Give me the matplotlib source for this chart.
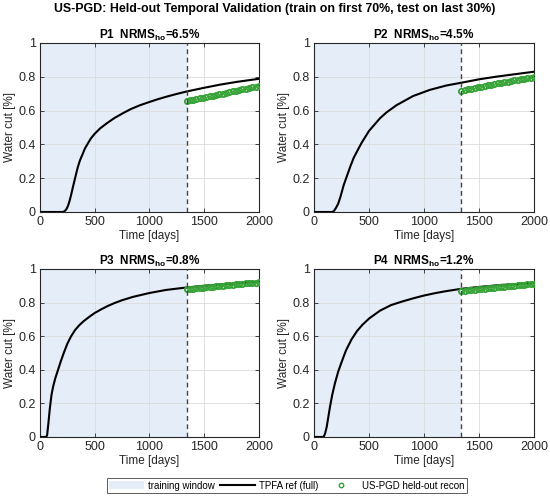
import numpy as np
import matplotlib
matplotlib.use('Agg')
import matplotlib.pyplot as plt
from matplotlib.patches import Patch
from matplotlib.lines import Line2D

plt.rcParams['font.family'] = ['Liberation Sans', 'DejaVu Sans']
plt.rcParams['mathtext.fontset'] = 'custom'
plt.rcParams['mathtext.rm'] = 'Liberation Sans'
plt.rcParams['mathtext.bf'] = 'Liberation Sans:bold'

# split between training and held-out part [days]
t_split = 1340

# reference TPFA curves (time [days], water cut)
t_p1 = [0, 210, 225, 240, 256, 270, 286, 300, 315, 330, 345, 365, 390, 410, 435, 465,
        500, 550, 613, 680, 762, 830, 911, 1000, 1075, 1149, 1240, 1340, 1500, 1650,
        1800, 2000]
wc_p1 = [0, 0, 0.005, 0.015, 0.036, 0.065, 0.105, 0.145, 0.185, 0.225, 0.264, 0.305,
         0.343, 0.375, 0.403, 0.435, 0.463, 0.495, 0.526, 0.556, 0.586, 0.609, 0.631,
         0.651, 0.667, 0.681, 0.697, 0.713, 0.735, 0.754, 0.770, 0.788]

t_p2 = [0, 165, 180, 200, 220, 240, 270, 300, 330, 360, 400, 433, 500, 600, 660, 750,
        900, 1050, 1200, 1340, 1500, 1650, 1800, 2000]
wc_p2 = [0, 0, 0.005, 0.025, 0.05, 0.09, 0.16, 0.215, 0.27, 0.32, 0.37, 0.41, 0.48, 0.555,
         0.59, 0.632, 0.686, 0.722, 0.748, 0.765, 0.785, 0.80, 0.813, 0.83]

t_p3 = [0, 55, 65, 75, 90, 105, 120, 140, 160, 190, 220, 250, 283, 320, 360, 400, 450,
        500, 560, 620, 684, 750, 850, 1000, 1150, 1340, 1500, 1700, 2000]
wc_p3 = [0, 0, 0.01, 0.07, 0.17, 0.25, 0.30, 0.35, 0.39, 0.45, 0.505, 0.555, 0.598, 0.636,
         0.666, 0.69, 0.715, 0.738, 0.76, 0.78, 0.798, 0.814, 0.834, 0.857, 0.875, 0.89,
         0.90, 0.91, 0.925]

t_p4 = [0, 80, 90, 100, 115, 130, 145, 165, 190, 220, 250, 290, 340, 390, 440, 500, 600,
        700, 800, 900, 1000, 1100, 1200, 1340, 1500, 1700, 2000]
wc_p4 = [0, 0, 0.005, 0.02, 0.06, 0.12, 0.18, 0.25, 0.32, 0.39, 0.445, 0.515, 0.58, 0.63,
         0.668, 0.705, 0.752, 0.785, 0.806, 0.825, 0.842, 0.856, 0.868, 0.882, 0.893,
         0.905, 0.916]

# held-out reconstruction (every 30 days from t_split to 2000)
t_ho = np.arange(1340, 2001, 30)
ho_p1 = [0.655, 0.660, 0.664, 0.669, 0.673, 0.677, 0.681, 0.685, 0.689, 0.693, 0.697,
         0.701, 0.705, 0.709, 0.713, 0.717, 0.721, 0.725, 0.729, 0.733, 0.737, 0.741, 0.745]
ho_p2 = [0.718, 0.722, 0.726, 0.730, 0.734, 0.738, 0.742, 0.746, 0.750, 0.754, 0.757,
         0.761, 0.765, 0.768, 0.772, 0.775, 0.779, 0.782, 0.786, 0.789, 0.792, 0.795, 0.798]
ho_p3 = [0.878, 0.881, 0.883, 0.885, 0.887, 0.889, 0.891, 0.893, 0.895, 0.897, 0.899,
         0.901, 0.903, 0.905, 0.907, 0.908, 0.910, 0.912, 0.914, 0.915, 0.917, 0.919, 0.921]
ho_p4 = [0.868, 0.871, 0.873, 0.875, 0.877, 0.879, 0.881, 0.883, 0.885, 0.887, 0.889,
         0.891, 0.893, 0.895, 0.897, 0.899, 0.901, 0.903, 0.905, 0.907, 0.909, 0.911, 0.913]

names = ['P1', 'P2', 'P3', 'P4']
nrms = [6.5, 4.5, 0.8, 1.2]
ref_t = [t_p1, t_p2, t_p3, t_p4]
ref_wc = [wc_p1, wc_p2, wc_p3, wc_p4]
ho_wc = [ho_p1, ho_p2, ho_p3, ho_p4]

shade = '#e5edf8'
green = '#35a335'
txt = '#262626'

fig = plt.figure(figsize=(5.5, 4.98), dpi=100)
pos = [[0.0727, 0.5743, 0.398, 0.3394],
       [0.571, 0.5743, 0.400, 0.3394],
       [0.0727, 0.1225, 0.398, 0.3374],
       [0.571, 0.1225, 0.400, 0.3374]]

for i in range(4):
    ax = fig.add_axes(pos[i])
    ax.axvspan(0, t_split, color=shade, lw=0, zorder=0.5)
    ax.set_axisbelow('line')
    ax.grid(True, color='#dcdcdc', lw=0.6)
    ax.plot(ref_t[i], ref_wc[i], color='black', lw=1.5, zorder=3)
    ax.plot(t_ho, ho_wc[i], 'o', mfc='none', mec=green, ms=3.8, mew=1.3, zorder=4)
    ax.axvline(t_split, color='#444444', lw=1.0, ls=(0, (3.5, 2.5)), zorder=5)
    ax.set_xlim(0, 2000)
    ax.set_ylim(0, 1)
    ax.set_xticks([0, 500, 1000, 1500, 2000])
    ax.set_yticks([0, 0.2, 0.4, 0.6, 0.8, 1])
    ax.set_yticklabels(['0', '0.2', '0.4', '0.6', '0.8', '1'])
    ax.tick_params(direction='in', length=3, width=0.6, labelsize=9, colors=txt,
                   top=True, right=True, pad=3)
    for s in ax.spines.values():
        s.set_color(txt)
        s.set_linewidth(0.8)
    ax.set_xlabel('Time [days]', fontsize=8.5, color=txt, labelpad=1)
    ax.set_ylabel('Water cut [%]', fontsize=8.5, color=txt, labelpad=2)
    ax.set_title(names[i] + '  NRMS$_{\\mathbf{ho}}$=' + f'{nrms[i]}%',
                 fontsize=8.5, fontweight='bold', pad=3)

fig.suptitle('US-PGD: Held-out Temporal Validation (train on first 70%, test on last 30%)',
             fontsize=8.9, fontweight='bold', x=0.5, y=0.993)

handles = [Patch(facecolor=shade, edgecolor='none'),
           Line2D([], [], color='black', lw=1.5),
           Line2D([], [], ls='none', marker='o', mfc='none', mec=green, ms=3.2, mew=1.0)]
labels = ['training window', 'TPFA ref (full)', 'US-PGD held-out recon']
leg = fig.legend(handles, labels, loc='center', bbox_to_anchor=(0.5218, 0.025), ncol=3,
                 fontsize=7, frameon=True, fancybox=False, edgecolor='#333333',
                 handlelength=3.6, handleheight=0.9, columnspacing=0.5, borderpad=0.3,
                 handletextpad=0.4)
leg.get_frame().set_linewidth(0.7)

fig.savefig('out.png', dpi=100)
